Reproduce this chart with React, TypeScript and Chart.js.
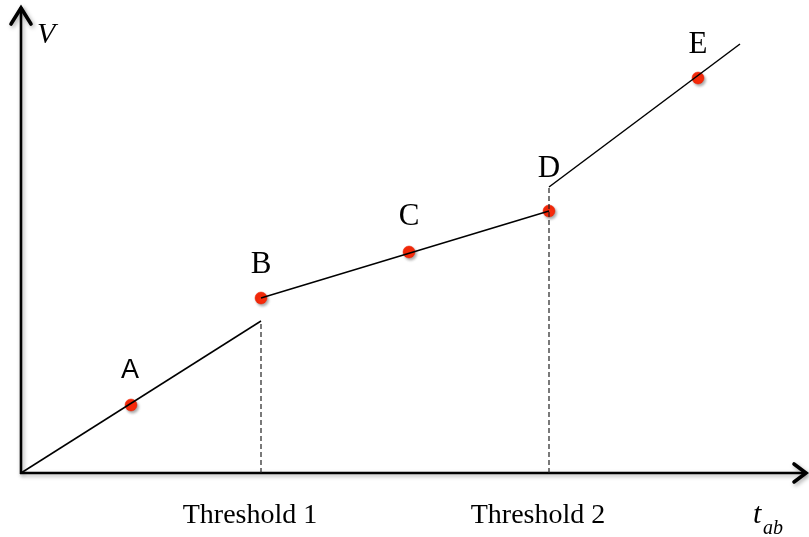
import React, { useEffect, useRef } from "react";
import { Chart, registerables } from "chart.js";

Chart.register(...registerables);

// Points on the curve (x = t_ab, y = V), arbitrary units
const pointLabels = ["A", "B", "C", "D", "E"];
const pointX = [110, 240, 388, 528, 677];
const pointY = [68, 175, 221, 262, 395];

// Line segments of the piecewise curve
const segStartX = [0, 240, 528];
const segStartY = [0, 175, 286];
const segEndX = [240, 528, 719];
const segEndY = [152, 262, 429];

// Thresholds
const thresholdLabels = ["Threshold 1", "Threshold 2"];
const thresholdX = [240, 528];
const thresholdTopY = [152, 286];

const X_MAX = 786;
const Y_MAX = 468;

const axesPlugin = {
  id: "axesArrows",
  beforeDatasetsDraw(chart: any) {
    const { ctx, chartArea } = chart;
    const x0 = chartArea.left;
    const y0 = chartArea.bottom;
    ctx.save();
    ctx.shadowColor = "rgba(0,0,0,0.35)";
    ctx.shadowBlur = 4;
    ctx.shadowOffsetX = 1.5;
    ctx.shadowOffsetY = 2;
    ctx.strokeStyle = "#000";
    ctx.lineWidth = 2.6;
    ctx.lineCap = "butt";
    // y axis
    ctx.beginPath();
    ctx.moveTo(x0, y0 + 1);
    ctx.lineTo(x0, chartArea.top + 2);
    ctx.stroke();
    // x axis
    ctx.beginPath();
    ctx.moveTo(x0 - 1, y0);
    ctx.lineTo(chartArea.right - 2, y0);
    ctx.stroke();
    // arrow heads
    ctx.lineWidth = 3.6;
    ctx.lineJoin = "miter";
    ctx.lineCap = "round";
    ctx.beginPath();
    ctx.moveTo(x0 - 10, chartArea.top + 19);
    ctx.lineTo(x0, chartArea.top + 3);
    ctx.lineTo(x0 + 10, chartArea.top + 19);
    ctx.stroke();
    ctx.beginPath();
    ctx.moveTo(chartArea.right - 13, y0 - 9);
    ctx.lineTo(chartArea.right - 1, y0);
    ctx.lineTo(chartArea.right - 13, y0 + 9);
    ctx.stroke();
    ctx.restore();
  },
  beforeDatasetDraw(chart: any, args: any) {
    if (args.index === chart.data.datasets.length - 1) {
      const ctx = chart.ctx;
      ctx.save();
      ctx.shadowColor = "rgba(0,0,0,0.35)";
      ctx.shadowBlur = 3;
      ctx.shadowOffsetX = 1.5;
      ctx.shadowOffsetY = 2;
    }
  },
  afterDatasetDraw(chart: any, args: any) {
    if (args.index === chart.data.datasets.length - 1) {
      chart.ctx.restore();
    }
  },
  afterDraw(chart: any) {
    const { ctx, scales } = chart;
    const xs = scales.x;
    const ys = scales.y;
    ctx.save();
    ctx.fillStyle = "#000";
    ctx.textAlign = "center";
    ctx.textBaseline = "alphabetic";
    const labelOffsets = [27, 25, 27, 34, 25];
    pointLabels.forEach((lab, i) => {
      const px = xs.getPixelForValue(pointX[i]);
      const py = ys.getPixelForValue(pointY[i]);
      ctx.font = i === 0 ? "27px 'Liberation Sans'" : "31px 'Liberation Serif'";
      ctx.fillText(lab, px - (i === 0 ? 1 : 0), py - labelOffsets[i]);
    });
    ctx.font = "28px 'Liberation Serif'";
    thresholdLabels.forEach((lab, i) => {
      const px = xs.getPixelForValue(thresholdX[i]);
      ctx.fillText(lab, px - 11, ys.getPixelForValue(0) + 50);
    });
    // axis titles
    ctx.font = "italic 30px 'Liberation Serif'";
    ctx.textAlign = "left";
    ctx.fillText("V", chart.chartArea.left + 16, 43);
    ctx.fillText("t", 753, 523);
    ctx.font = "italic 20px 'Liberation Serif'";
    ctx.fillText("ab", 763, 534);
    ctx.restore();
  },
};

function App() {
  const canvasRef = useRef<HTMLCanvasElement | null>(null);

  useEffect(() => {
    const canvas = canvasRef.current;
    if (!canvas) return;
    const lineStyle = {
      borderColor: "#000",
      borderWidth: 1.5,
      pointRadius: 0,
      showLine: true,
      fill: false,
      clip: false as any,
    };
    const datasets: any[] = [];
    for (let i = 0; i < segStartX.length; i++) {
      datasets.push({
        ...lineStyle,
        data: [
          { x: segStartX[i], y: segStartY[i] },
          { x: segEndX[i], y: segEndY[i] },
        ],
      });
    }
    for (let i = 0; i < thresholdX.length; i++) {
      datasets.push({
        ...lineStyle,
        borderColor: "#222",
        borderWidth: 1.2,
        borderDash: [5, 3],
        data: [
          { x: thresholdX[i], y: 0 },
          { x: thresholdX[i], y: thresholdTopY[i] },
        ],
      });
    }
    datasets.push({
      type: "scatter",
      showLine: false,
      clip: false,
      data: pointX.map((x, i) => ({ x, y: pointY[i] })),
      pointRadius: 6,
      pointBackgroundColor: "#f82a0a",
      pointBorderColor: "#e82005",
      pointBorderWidth: 0.5,
    });

    const chart = new Chart(canvas, {
      type: "scatter",
      data: { datasets },
      options: {
        responsive: false,
        animation: false,
        devicePixelRatio: 1,
        layout: { autoPadding: false, padding: { left: 21, right: 2, top: 5, bottom: 64 } },
        plugins: { legend: { display: false }, tooltip: { enabled: false } },
        scales: {
          x: { type: "linear", min: 0, max: X_MAX, display: false },
          y: { type: "linear", min: 0, max: Y_MAX, display: false },
        },
      },
      plugins: [axesPlugin],
    } as any);
    return () => chart.destroy();
  }, []);

  return (
    <div style={{ position: "absolute", left: 0, top: 0, width: 809, height: 537, background: "#fff" }}>
      <canvas ref={canvasRef} width={809} height={537} />
    </div>
  );
}

export default App;
